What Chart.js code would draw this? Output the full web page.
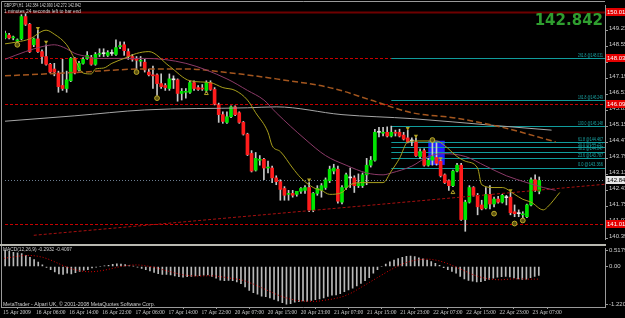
<!DOCTYPE html>
<html>
<head>
<meta charset="utf-8">
<script src="https://cdn.jsdelivr.net/npm/chart.js@4.4.1/dist/chart.umd.min.js"></script>
<style>
  html, body { margin: 0; padding: 0; background: #000; overflow: hidden; }
  #quadro { position: relative; width: 625px; height: 318px; }
  canvas { position: absolute; left: 0; }
  #graficoPreco { top: 0; }
  #graficoMacd { top: 244px; }
</style>
</head>
<body>
<div id="quadro">
  <canvas id="graficoPreco" width="625" height="244"></canvas>
  <canvas id="graficoMacd" width="625" height="74"></canvas>
</div>
<script>
const simbolo = "GBPJPY,H1";
const rotulosDatas = ["15 Apr 2009", "16 Apr 06:00", "16 Apr 14:00", "16 Apr 22:00", "17 Apr 06:00", "17 Apr 14:00", "17 Apr 22:00", "20 Apr 07:00", "20 Apr 15:00", "20 Apr 23:00", "21 Apr 07:00", "21 Apr 15:00", "21 Apr 23:00", "22 Apr 07:00", "22 Apr 15:00", "22 Apr 23:00", "23 Apr 07:00"];
const ticksPreco = [140.390, 141.070, 141.750, 142.430, 143.110, 143.790, 144.470, 145.150, 145.830, 146.510, 147.190, 147.870, 148.550, 149.230, 149.910];
const ticksMacd = [0.5179, 0, -1.2209];

// velas H1 (abertura, maxima, minima, fechamento)
const aberturas = [148.90, 149.02, 148.90, 148.77, 148.86, 149.81, 149.48, 148.61, 148.86, 148.32,
  148.11, 147.78, 147.58, 147.41, 146.88, 146.75, 147.08, 148.03, 147.54, 147.82,
  148.03, 148.07, 147.78, 148.20, 148.24, 148.16, 148.24, 148.20, 148.53, 148.61,
  148.32, 148.11, 147.99, 147.91, 147.87, 147.45, 147.33, 147.33, 146.96, 146.88,
  146.75, 147.12, 147.12, 146.54, 146.59, 146.59, 147.00, 146.79, 146.75, 146.67,
  147.00, 146.71, 146.05, 145.64, 145.31, 145.55, 145.97, 145.72, 145.31, 144.81,
  143.99, 143.28, 143.70, 143.74, 143.37, 143.37, 142.95, 142.79, 142.50, 142.25,
  142.29, 142.25, 142.38, 142.42, 142.54, 141.59, 142.29, 142.42, 142.54, 142.83,
  143.24, 143.32, 141.92, 142.54, 142.95, 142.95, 142.62, 142.62, 143.08, 143.49,
  143.70, 144.89, 144.85, 144.89, 144.73, 144.89, 144.89, 144.77, 144.65, 144.52,
  144.48, 143.86, 144.11, 143.49, 143.70, 143.82, 143.66, 143.08, 142.83, 142.62,
  143.24, 143.49, 141.18, 141.92, 142.54, 142.21, 141.80, 141.67, 142.25, 141.84,
  142.05, 141.92, 142.13, 142.13, 141.51, 141.43, 141.38, 141.30, 141.80, 142.87,
  142.384];
const maximas = [149.19, 149.10, 148.98, 148.86, 149.89, 149.93, 149.52, 148.90, 149.23, 148.40,
  148.61, 147.82, 147.82, 147.49, 147.99, 147.49, 148.07, 148.07, 147.91, 148.07,
  148.32, 148.16, 148.28, 148.44, 148.44, 148.36, 148.40, 148.82, 148.73, 148.73,
  148.44, 148.20, 148.11, 148.11, 147.99, 147.58, 147.70, 147.37, 147.37, 146.96,
  147.37, 147.29, 147.16, 146.75, 146.75, 147.08, 147.08, 146.88, 146.92, 147.08,
  147.08, 146.79, 146.13, 145.76, 145.76, 146.01, 146.01, 145.76, 145.35, 144.85,
  144.11, 144.03, 143.90, 143.78, 143.66, 143.45, 143.04, 142.87, 142.58, 142.42,
  142.42, 142.38, 142.54, 142.62, 142.75, 142.33, 142.62, 142.71, 142.95, 143.45,
  143.53, 143.45, 142.62, 143.16, 143.37, 143.04, 143.12, 143.16, 143.78, 143.86,
  145.02, 145.10, 145.10, 145.12, 145.15, 144.98, 145.02, 144.89, 144.98, 144.65,
  144.65, 144.19, 144.19, 143.78, 144.48, 144.44, 143.70, 143.12, 142.87, 143.28,
  143.57, 143.57, 142.00, 142.62, 142.58, 142.29, 142.00, 142.54, 142.62, 142.13,
  142.17, 142.25, 142.21, 142.33, 141.80, 141.59, 141.51, 141.84, 142.95, 143.08,
  142.990];
const minimas = [148.86, 148.86, 148.82, 148.69, 148.82, 149.43, 148.28, 148.53, 148.28, 147.82,
  147.74, 147.41, 147.29, 146.59, 146.67, 146.59, 147.04, 147.37, 147.49, 147.78,
  147.99, 147.74, 147.74, 148.11, 148.11, 148.11, 148.16, 148.16, 148.44, 148.16,
  147.99, 147.91, 147.58, 147.70, 147.45, 147.29, 146.75, 146.46, 146.75, 146.67,
  146.67, 146.75, 146.21, 146.26, 146.34, 146.54, 146.67, 146.67, 146.67, 146.59,
  146.67, 146.05, 145.31, 145.27, 145.27, 145.51, 145.60, 145.27, 144.77, 143.90,
  143.20, 143.24, 143.49, 142.87, 143.16, 142.75, 142.66, 142.00, 142.00, 142.00,
  142.13, 142.17, 142.29, 142.29, 141.51, 141.51, 142.21, 142.13, 142.46, 142.75,
  143.12, 141.88, 141.84, 142.46, 142.54, 142.33, 142.54, 142.54, 142.66, 143.41,
  143.66, 144.69, 144.73, 144.69, 144.69, 144.73, 144.69, 144.56, 144.44, 144.32,
  143.86, 143.78, 143.45, 143.45, 143.49, 143.49, 142.99, 142.71, 142.42, 142.58,
  143.20, 141.14, 140.68, 141.88, 142.17, 141.38, 141.59, 141.63, 141.63, 141.72,
  141.88, 141.88, 141.80, 141.38, 141.30, 141.30, 141.22, 141.26, 141.76, 142.38,
  142.272];
const fechamentos = [149.10, 148.90, 148.94, 148.82, 149.81, 149.48, 148.32, 148.86, 148.32, 148.11,
  147.78, 147.45, 147.45, 146.83, 146.75, 147.12, 148.03, 147.41, 147.82, 147.99,
  148.16, 147.78, 148.20, 148.22, 148.23, 148.28, 148.26, 148.49, 148.57, 148.36,
  148.11, 147.99, 147.95, 147.95, 147.54, 147.33, 147.29, 146.96, 146.83, 146.79,
  147.16, 147.14, 146.54, 146.63, 146.61, 147.00, 146.75, 146.71, 146.73, 147.00,
  146.71, 146.09, 145.64, 145.35, 145.55, 145.97, 145.64, 145.31, 144.81, 143.94,
  143.24, 143.78, 143.74, 143.37, 143.41, 142.95, 142.79, 142.46, 142.21, 142.29,
  142.21, 142.38, 142.50, 142.54, 141.59, 142.29, 142.50, 142.62, 142.87, 143.32,
  143.37, 141.96, 142.54, 143.08, 142.96, 142.62, 142.71, 143.08, 143.49, 143.70,
  144.89, 144.90, 144.89, 144.73, 144.89, 144.85, 144.73, 144.60, 144.48, 144.54,
  143.90, 144.07, 143.49, 143.70, 143.86, 143.57, 143.04, 142.75, 142.62, 143.24,
  143.49, 141.18, 141.92, 142.54, 142.21, 141.72, 141.63, 142.25, 141.84, 142.05,
  141.92, 142.21, 142.11, 141.47, 141.43, 141.45, 141.40, 141.80, 142.87, 142.42,
  142.842];

// medias moveis: [barra, preco]
const mediaAmarela = [[0, 148.65], [3, 148.73], [6, 148.86], [10, 149.23], [12, 149.06], [15, 148.61], [17, 147.99], [19, 147.41], [21, 147.37], [22, 147.58], [24, 147.62], [26, 147.82], [29, 148.03], [32, 148.24], [35, 148.32], [40, 147.70], [45, 147.08], [50, 147.00], [53, 146.79], [56, 146.67], [59, 146.26], [61, 145.72], [64, 144.89], [65, 144.32], [67, 144.07], [70, 143.37], [72, 142.95], [75, 142.54], [77, 142.42], [79, 142.25], [82, 142.33], [84, 142.66], [87, 142.75], [92, 142.75], [94, 143.24], [96, 143.78], [98, 144.48], [100, 144.52], [105, 144.52], [107, 144.32], [110, 143.86], [112, 143.66], [115, 143.37], [116, 142.66], [119, 142.54], [121, 142.54], [124, 142.25], [126, 142.04], [128, 141.92], [131, 141.59], [132, 141.71], [135, 142.33]];
const mediaRoxa = [[0, 147.99], [5, 148.32], [9, 148.53], [12, 148.61], [15, 148.44], [17, 148.24], [20, 148.11], [22, 148.03], [34, 148.03], [44, 147.82], [54, 147.16], [59, 146.67], [63, 146.26], [66, 145.72], [73, 144.60], [78, 143.90], [83, 143.49], [88, 143.16], [92, 143.08], [94, 143.16], [99, 143.45], [103, 143.86], [107, 143.98], [112, 143.86], [117, 143.45], [122, 143.04], [127, 142.75], [131, 142.54], [134, 142.42]];
const mediaMarrom = [[0, 147.29], [17, 147.43], [34, 147.58], [44, 147.58], [55, 147.41], [66, 147.16], [80, 146.75], [89, 146.26], [99, 145.72], [109, 145.51], [121, 145.10], [134, 144.48]];
const mediaCinza = [[0, 145.36], [17, 145.59], [34, 145.84], [59, 145.93], [66, 145.97], [82, 145.64], [99, 145.47], [119, 145.18], [133, 144.98]];
const linhaTendencia = [[7, 140.51], [146, 142.68]];

const fractaisAcima = [[8, 149.31], [10, 148.73], [74, 142.87], [98, 145.06], [100, 144.73], [106, 143.78], [123, 142.42]];
const fractaisCirculo = [[3, 148.61], [32, 147.45], [37, 146.34], [104, 144.56], [119, 141.43], [124, 141.01], [126, 141.14]];
const fractaisDelta = [[49, 146.54], [109, 142.33]];

const nivelTopo = 150.010;
const niveisVermelhos = [148.030, 146.090, 141.010];
const fiboPercentuais = ["261.8", "161.8", "100.0", "61.8", "50.0", "38.2", "23.6", "0.0"];
const fiboPrecos = [148.031, 146.249, 145.148, 144.467, 144.257, 144.047, 143.787, 143.366];
const fiboInicio = 94;
const caixaAzul = [103, 107, 143.50, 144.53];
const precoAtual = 142.842;

const macdValores = [0.48, 0.52, 0.50, 0.46, 0.44, 0.42, 0.36, 0.30, 0.22, 0.14,
  0.05, -0.03, -0.10, -0.18, -0.24, -0.26, -0.22, -0.24, -0.20, -0.16,
  -0.12, -0.10, -0.05, -0.02, 0.00, 0.02, 0.04, 0.07, 0.09, 0.08,
  0.06, 0.03, 0.01, -0.02, -0.06, -0.10, -0.14, -0.19, -0.23, -0.26,
  -0.26, -0.27, -0.31, -0.33, -0.35, -0.33, -0.32, -0.31, -0.30, -0.28,
  -0.27, -0.32, -0.38, -0.44, -0.46, -0.45, -0.46, -0.50, -0.56, -0.66,
  -0.78, -0.85, -0.90, -0.96, -0.98, -1.02, -1.07, -1.12, -1.17, -1.22,
  -1.21, -1.16, -1.14, -1.12, -1.13, -1.10, -1.08, -1.05, -1.02, -0.97,
  -0.93, -0.92, -0.88, -0.82, -0.76, -0.70, -0.63, -0.55, -0.46, -0.36,
  -0.22, -0.10, 0.00, 0.08, 0.15, 0.21, 0.26, 0.30, 0.33, 0.34,
  0.32, 0.28, 0.25, 0.21, 0.16, 0.10, 0.04, -0.04, -0.10, -0.16,
  -0.22, -0.32, -0.40, -0.45, -0.48, -0.50, -0.49, -0.46, -0.42, -0.38,
  -0.35, -0.33, -0.32, -0.34, -0.37, -0.40, -0.42, -0.41, -0.36, -0.32,
  -0.2932];
const macdSinal = [0.25, 0.27, 0.29, 0.31, 0.33, 0.35, 0.36, 0.36, 0.35, 0.33,
  0.30, 0.26, 0.21, 0.15, 0.09, 0.03, -0.02, -0.07, -0.11, -0.14,
  -0.16, -0.17, -0.17, -0.16, -0.14, -0.12, -0.09, -0.06, -0.03, 0.00,
  0.02, 0.04, 0.05, 0.05, 0.04, 0.02, 0.00, -0.03, -0.06, -0.10,
  -0.14, -0.17, -0.21, -0.24, -0.27, -0.29, -0.30, -0.31, -0.31, -0.31,
  -0.30, -0.30, -0.31, -0.33, -0.35, -0.37, -0.39, -0.41, -0.43, -0.47,
  -0.52, -0.57, -0.63, -0.69, -0.75, -0.81, -0.87, -0.93, -0.98, -1.02,
  -1.06, -1.09, -1.11, -1.12, -1.13, -1.13, -1.13, -1.12, -1.10, -1.08,
  -1.06, -1.03, -1.00, -0.96, -0.90, -0.84, -0.76, -0.68, -0.60, -0.52,
  -0.44, -0.36, -0.28, -0.20, -0.12, -0.05, 0.02, 0.08, 0.13, 0.17,
  0.20, 0.22, 0.23, 0.24, 0.23, 0.21, 0.18, 0.14, 0.09, 0.04,
  -0.02, -0.08, -0.14, -0.20, -0.26, -0.31, -0.35, -0.38, -0.40, -0.42,
  -0.43, -0.43, -0.42, -0.41, -0.40, -0.40, -0.40, -0.41, -0.41, -0.41,
  -0.4097];

let graficoPrincipal;
let graficoMacd;

const fonteMini = '"Liberation Sans Narrow", "Liberation Sans", sans-serif';
const corTexto = "#cfcfcf";
const corMoldura = "#9a9a9a";

function pares(lista) {
  return lista.map(([x, y]) => ({ x, y }));
}

function corVela(i) {
  const d = fechamentos[i] - aberturas[i];
  if (d > 0.02) return "#00e400";
  if (d < -0.02) return "#ff1c1c";
  return "#eaeaea";
}

function texto(ctx, s, x, y, largura, cor, tam, alinha) {
  ctx.font = tam + "px " + fonteMini;
  ctx.fillStyle = cor;
  ctx.textAlign = alinha || "left";
  ctx.textBaseline = "middle";
  ctx.fillText(s, x, y, largura);
}

function linhaH(ctx, area, y, cor, traco, x0) {
  ctx.strokeStyle = cor;
  ctx.setLineDash(traco);
  ctx.beginPath();
  ctx.moveTo(x0 === undefined ? area.left : x0, Math.round(y) + 0.5);
  ctx.lineTo(area.right, Math.round(y) + 0.5);
  ctx.stroke();
}

const desenhoPreco = {
  id: "desenhoPreco",
  beforeDatasetsDraw(chart) {
    const { ctx, chartArea: area, scales: { x, y } } = chart;
    ctx.save();
    ctx.beginPath();
    ctx.rect(area.left, area.top, area.right - area.left, area.bottom - area.top);
    ctx.clip();
    ctx.lineWidth = 1;

    // caixa azul
    ctx.fillStyle = "#1f1fff";
    const xa = x.getPixelForValue(caixaAzul[0]);
    const xb = x.getPixelForValue(caixaAzul[1]);
    const ya = y.getPixelForValue(caixaAzul[3]);
    const yb = y.getPixelForValue(caixaAzul[2]);
    ctx.fillRect(xa, ya, xb - xa, yb - ya);

    ctx.lineWidth = 2;
    linhaH(ctx, area, y.getPixelForValue(nivelTopo), "#6e0000", []);
    ctx.lineWidth = 1;
    niveisVermelhos.forEach(v => linhaH(ctx, area, y.getPixelForValue(v), "#c80000", [3, 2]));
    const xf = x.getPixelForValue(fiboInicio);
    fiboPrecos.forEach(v => linhaH(ctx, area, y.getPixelForValue(v), "#109c9c", [], xf));
    linhaH(ctx, area, y.getPixelForValue(precoAtual), "#6c7e92", [1, 2]);
    ctx.restore();
  },
  afterDatasetsDraw(chart) {
    const { ctx, scales: { y } } = chart;
    ctx.save();
    fiboPrecos.forEach((v, i) => {
      texto(ctx, fiboPercentuais[i] + " @" + v.toFixed(3), 603, y.getPixelForValue(v) - 3, 25, "#1aa6a6", 5, "right");
    });
    ctx.restore();
  },
  afterDraw(chart) {
    const { ctx, chartArea: area, scales: { y } } = chart;
    ctx.save();
    // moldura
    ctx.strokeStyle = corMoldura;
    ctx.lineWidth = 1;
    ctx.setLineDash([]);
    ctx.beginPath();
    ctx.moveTo(1.5, 244);
    ctx.lineTo(1.5, 1.5);
    ctx.lineTo(area.right, 1.5);
    ctx.stroke();

    const n = aberturas.length - 1;
    const titulo = simbolo + "  " + aberturas[n].toFixed(3) + " " + maximas[n].toFixed(3) + " " + minimas[n].toFixed(3) + " " + fechamentos[n].toFixed(3);
    texto(ctx, titulo, 4, 5, 77, corTexto, 5.5);
    texto(ctx, "1 minutes 24 seconds left to bar end", 4, 11, 77, corTexto, 5.5);

    ctx.font = 'bold 15px "DejaVu Sans"';
    ctx.fillStyle = "#2f9e2f";
    ctx.textAlign = "right";
    ctx.textBaseline = "alphabetic";
    ctx.fillText(precoAtual.toFixed(3), 603, 25);

    // rotulos do eixo de preco
    [nivelTopo, ...niveisVermelhos].forEach(v => {
      const py = Math.round(y.getPixelForValue(v));
      ctx.fillStyle = "#e40000";
      ctx.fillRect(606, py - 4, 19, 8);
      texto(ctx, v.toFixed(3), 607, py, 30, "#ffffff", 6);
    });
    const pb = Math.round(y.getPixelForValue(precoAtual));
    ctx.fillStyle = "#e6e6e6";
    ctx.fillRect(606, pb - 4, 19, 8);
    texto(ctx, precoAtual.toFixed(3), 607, pb, 30, "#000000", 6);
    ctx.restore();
  }
};

const desenhoMacd = {
  id: "desenhoMacd",
  afterDraw(chart) {
    const { ctx, chartArea: area } = chart;
    ctx.save();
    ctx.fillStyle = "#b8b8b0";
    ctx.fillRect(0, 0, area.right + 1, 2);
    ctx.strokeStyle = corMoldura;
    ctx.lineWidth = 1;
    ctx.beginPath();
    ctx.moveTo(1.5, 2);
    ctx.lineTo(1.5, area.bottom);
    ctx.stroke();
    const n = macdValores.length - 1;
    texto(ctx, "MACD(12,26,9) " + macdValores[n].toFixed(4) + " " + macdSinal[n].toFixed(4), 3, 5.5, 69, corTexto, 5.5);
    texto(ctx, "MetaTrader - Alpari UK, \u00a9 2001-2008 MetaQuotes Software Corp.", 3, 60, 152, corTexto, 5.5);
    ctx.restore();
  }
};

function graficoVelas() {
  const ctx = document.getElementById("graficoPreco");

  if (graficoPrincipal) graficoPrincipal.destroy();

  const linha = (dados, cor, extra) => Object.assign({
    type: "line",
    data: pares(dados),
    borderColor: cor,
    borderWidth: 1,
    pointRadius: 0,
    cubicInterpolationMode: "monotone",
    order: 1
  }, extra || {});

  graficoPrincipal = new Chart(ctx, {
    type: "bar",
    data: {
      datasets: [
        {
          type: "line", data: pares(fractaisAcima), showLine: false, order: 0,
          pointStyle: "triangle", rotation: 180, pointRadius: 2.4,
          pointBackgroundColor: "#b4a424", pointBorderColor: "#b4a424", pointBorderWidth: 0
        },
        {
          type: "line", data: pares(fractaisDelta), showLine: false, order: 0,
          pointStyle: "triangle", pointRadius: 2.2,
          pointBackgroundColor: "rgba(0,0,0,0)", pointBorderColor: "#b4a424", pointBorderWidth: 1
        },
        {
          type: "line", data: pares(fractaisCirculo), showLine: false, order: 0,
          pointStyle: "circle", pointRadius: 2.4,
          pointBackgroundColor: "#5c5210", pointBorderColor: "#bcab2a", pointBorderWidth: 1
        },
        linha(mediaAmarela, "#a99f1c"),
        linha(mediaRoxa, "#8c3a68"),
        linha(mediaMarrom, "#a4561e", { borderDash: [6, 3], borderWidth: 1.5 }),
        linha(mediaCinza, "#a6a6a6"),
        linha(linhaTendencia, "#a81010", { borderDash: [3, 2], cubicInterpolationMode: "default" }),
        {
          label: "corpo",
          data: aberturas.map((o, i) => ({ x: i, y: [Math.min(o, fechamentos[i]), Math.max(o, fechamentos[i])] })),
          backgroundColor: aberturas.map((_, i) => corVela(i)),
          barThickness: 3,
          minBarLength: 1,
          grouped: false,
          order: 2
        },
        {
          label: "pavio",
          data: maximas.map((h, i) => ({ x: i, y: [minimas[i], h] })),
          backgroundColor: "#c9c9c9",
          barThickness: 1,
          grouped: false,
          order: 3
        }
      ]
    },
    options: {
      responsive: false,
      animation: false,
      events: [],
      layout: { padding: { left: 1, top: 2, right: 0, bottom: 1 } },
      plugins: { legend: { display: false }, tooltip: { enabled: false } },
      scales: {
        x: { type: "linear", min: 0, max: 146, offset: false, display: false },
        y: {
          position: "right",
          min: 140.352,
          max: 150.301,
          afterFit: s => { s.width = 20; },
          afterBuildTicks: s => { s.ticks = ticksPreco.map(v => ({ value: v })); },
          ticks: {
            color: corTexto,
            font: { family: "Liberation Sans", size: 6 },
            padding: 1,
            labelOffset: -2,
            callback: v => v.toFixed(3)
          },
          grid: { drawOnChartArea: false, tickLength: 3, color: corMoldura },
          border: { color: corMoldura }
        }
      }
    },
    plugins: [desenhoPreco]
  });
}

function graficoIndicador() {
  const ctx = document.getElementById("graficoMacd");

  if (graficoMacd) graficoMacd.destroy();

  graficoMacd = new Chart(ctx, {
    type: "bar",
    data: {
      datasets: [
        {
          type: "line",
          data: macdSinal.map((v, i) => ({ x: i, y: v })),
          borderColor: "#d80000",
          borderWidth: 1,
          borderDash: [1, 2],
          pointRadius: 0,
          order: 0
        },
        {
          data: macdValores.map((v, i) => ({ x: i, y: v })),
          backgroundColor: "#b9b9b9",
          barThickness: 1,
          grouped: false,
          order: 1
        }
      ]
    },
    options: {
      responsive: false,
      animation: false,
      events: [],
      layout: { padding: { left: 1, top: 2, right: 0, bottom: 0 } },
      plugins: { legend: { display: false }, tooltip: { enabled: false } },
      scales: {
        x: {
          type: "linear",
          min: 0,
          max: 146,
          offset: false,
          afterFit: s => { s.height = 11; },
          afterBuildTicks: s => { s.ticks = rotulosDatas.map((_, i) => ({ value: i * 8 })); },
          ticks: {
            autoSkip: false,
            maxRotation: 0,
            align: "start",
            labelOffset: 2,
            padding: 0,
            color: corTexto,
            font: { family: "Liberation Sans Narrow", size: 5.5 },
            callback: v => rotulosDatas[v / 8]
          },
          grid: { drawOnChartArea: false, tickLength: 2, color: corMoldura },
          border: { color: corMoldura }
        },
        y: {
          position: "right",
          min: -1.314,
          max: 0.580,
          afterFit: s => { s.width = 20; },
          afterBuildTicks: s => { s.ticks = ticksMacd.map(v => ({ value: v })); },
          ticks: {
            color: corTexto,
            font: { family: "Liberation Sans", size: 6 },
            padding: 1,
            callback: v => (v === 0 ? "0.00" : String(v))
          },
          grid: { drawOnChartArea: false, tickLength: 3, color: corMoldura },
          border: { color: corMoldura }
        }
      }
    },
    plugins: [desenhoMacd]
  });
}

graficoVelas();
graficoIndicador();
</script>
</body>
</html>
